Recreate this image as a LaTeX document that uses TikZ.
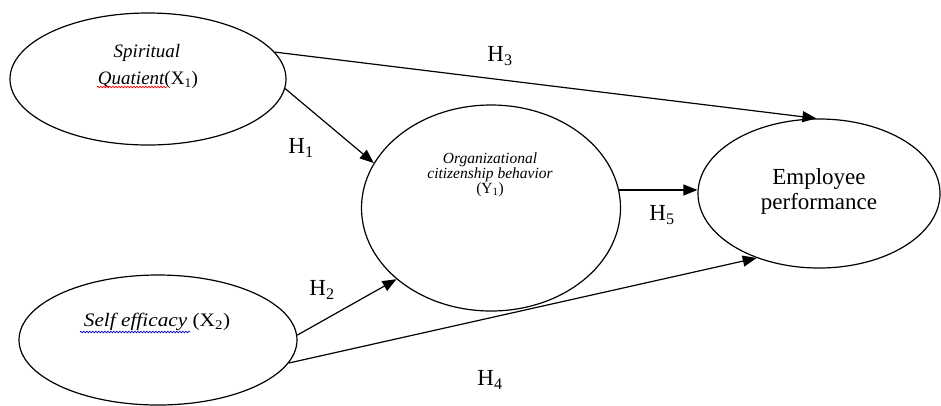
\documentclass[tikz,border=0pt]{standalone}
\usepackage{fontspec}
\setmainfont{Liberation Serif}
\usetikzlibrary{shapes.geometric,arrows.meta,decorations.pathmorphing}
\tikzset{
  construct/.style={ellipse, draw=black, line width=1.2pt, inner sep=0pt, fill=white},
  path/.style={line width=1.2pt, -{Triangle[length=14pt,width=11pt]}},
  hlabel/.style={font=\fontsize{23}{26}\selectfont, inner sep=0pt},
  itext/.style={font=\fontsize{19}{22}\selectfont\itshape, inner sep=0pt, align=center},
  smalltext/.style={font=\fontsize{15.5}{18}\selectfont\itshape, inner sep=0pt, align=center},
  squiggle/.style={decorate, decoration={snake, amplitude=0.8pt, segment length=3pt}, line width=0.7pt}
}
\begin{document}
\begin{tikzpicture}[x=1pt,y=-1pt]
\useasboundingbox (0,0) rectangle (941,405);
% constructs
\node[construct, minimum width=276pt, minimum height=132pt] (sq) at (148,79) {};
\node[construct, minimum width=278pt, minimum height=130pt] (se) at (158,340) {};
\node[construct, minimum width=259pt, minimum height=206pt] (ocb) at (491,208) {};
\node[construct, minimum width=242pt, minimum height=149pt] (ep) at (819,193.5) {};
% texts
\node[itext] (sqt1) at (147,53) {Spiritual};
\node[itext] (sqt2) at (148,80) {Quatient\upshape(X\textsubscript{1})};
\node[itext] (set) at (157,322) {\scalebox{1.12}[1]{Self efficacy \upshape(X\textsubscript{2})}};
\node[smalltext] (ocbt) at (490,175) {Organizational\\[-3pt]citizenship behavior\\[-3pt]\upshape(Y\textsubscript{1})};
\node[font=\fontsize{23}{25}\selectfont, align=center, inner sep=0pt] (ept) at (819,191) {Employee\\performance};
% spell-check underlines
\draw[squiggle, red] (97,87) -- (167,87);
\draw[squiggle, blue!80!black] (80,332) -- (190,332);
% paths
\draw[path] (sq.12) -- (ep.92);
\draw[path] (sq.-4) -- (ocb.159);
\draw[path] (se.2) -- (ocb.217);
\draw[path] (se.-10) -- (ep.226);
\draw[path] (ocb.8) -- (ocb.8 -| ep.west);
% labels
\node[hlabel] (h3) at (500,56) {H\textsubscript{3}};
\node[hlabel] (h1) at (301,148) {H\textsubscript{1}};
\node[hlabel] (h2) at (322,290) {H\textsubscript{2}};
\node[hlabel] (h4) at (490,380) {H\textsubscript{4}};
\node[hlabel] (h5) at (662,215) {H\textsubscript{5}};
\end{tikzpicture}
\end{document}
